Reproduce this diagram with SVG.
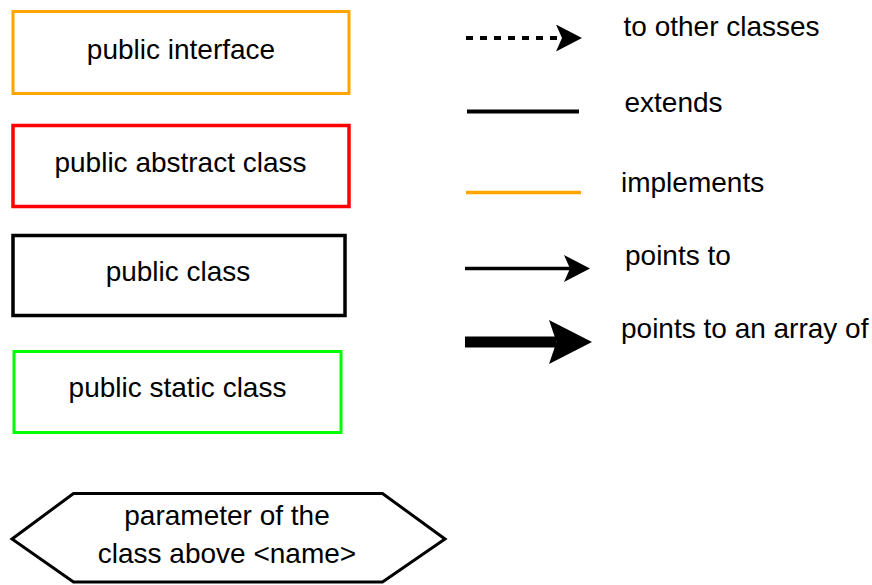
<svg xmlns="http://www.w3.org/2000/svg" width="872" height="585" viewBox="0 0 872 585">
  <style>
    text { font-family: "Liberation Sans", Arial, sans-serif; font-size: 28px; fill: #000; }
    .center { text-anchor: middle; }
    .box { fill: #fff; }
    .interface { stroke: #FFA500; stroke-width: 3; }
    .abstract { stroke: #FF0000; stroke-width: 3.5; }
    .plain { stroke: #000; stroke-width: 3.5; }
    .static { stroke: #00FF00; stroke-width: 3; }
    .param { fill: #fff; stroke: #000; stroke-width: 3; stroke-linejoin: miter; }
    .edge { fill: none; stroke: #000; }
    .impl { stroke: #FFA500; }
  </style>
  <defs>
    <!-- arrowheads are anchored at their notch so the shaft ends inside them -->
    <marker id="head" markerUnits="userSpaceOnUse" markerWidth="26" markerHeight="27" refX="6" refY="13.5" orient="auto">
      <path d="M0,0 L26,13.5 L0,27 L6,13.5 Z" fill="#000"/>
    </marker>
    <marker id="headBig" markerUnits="userSpaceOnUse" markerWidth="43" markerHeight="44" refX="7.5" refY="22" orient="auto">
      <path d="M0,0 L43,22 L0,44 L7.5,22 Z" fill="#000"/>
    </marker>
  </defs>

  <!-- legend nodes -->
  <g id="public-interface">
    <rect class="box interface" x="13" y="11.5" width="336" height="82"/>
    <text class="center" x="181" y="58.5">public interface</text>
  </g>
  <g id="public-abstract-class">
    <rect class="box abstract" x="13" y="125.5" width="336" height="81"/>
    <text class="center" x="180.5" y="171.5">public abstract class</text>
  </g>
  <g id="public-class">
    <rect class="box plain" x="13" y="235.5" width="332" height="80"/>
    <text class="center" x="178" y="281">public class</text>
  </g>
  <g id="public-static-class">
    <rect class="box static" x="14" y="351.5" width="327" height="81"/>
    <text class="center" x="177.5" y="396.5">public static class</text>
  </g>
  <g id="parameter">
    <polygon class="param" points="12,539 73.5,493.5 382.5,493.5 445,539 382.5,582 73.5,582"/>
    <text class="center" x="227" y="525">parameter of the</text>
    <text class="center" x="227" y="563">class above &lt;name&gt;</text>
  </g>

  <!-- legend connectors -->
  <g id="connectors">
    <line class="edge" x1="466" y1="38" x2="562" y2="38" stroke-width="4" stroke-dasharray="7 7" marker-end="url(#head)"/>
    <line class="edge" x1="467" y1="111.5" x2="579" y2="111.5" stroke-width="4"/>
    <line class="edge impl" x1="466" y1="192.5" x2="581" y2="192.5" stroke-width="3.5"/>
    <line class="edge" x1="465" y1="268.5" x2="570" y2="268.5" stroke-width="3.3" marker-end="url(#head)"/>
    <line class="edge" x1="465" y1="342" x2="556.5" y2="342" stroke-width="11" marker-end="url(#headBig)"/>
  </g>

  <!-- legend labels -->
  <g id="labels">
    <text x="623.5" y="36">to other classes</text>
    <text x="624.5" y="111.5">extends</text>
    <text x="621" y="191.5">implements</text>
    <text x="625" y="265">points to</text>
    <text x="621" y="338">points to an array of</text>
  </g>
</svg>
